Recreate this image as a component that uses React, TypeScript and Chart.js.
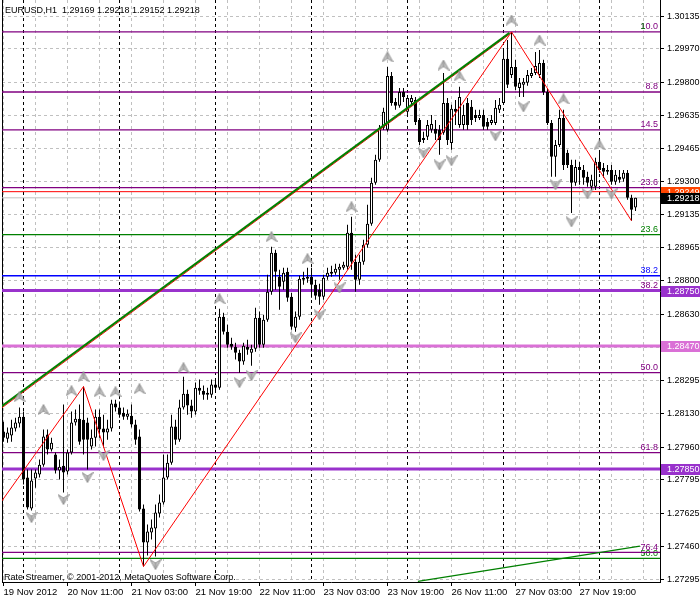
import React, { useEffect, useRef } from 'react';
import { Chart, registerables } from 'chart.js';

Chart.register(...registerables);

const headerText = 'EURUSD,H1  1.29169 1.29218 1.29152 1.29218';
const footerText = 'Rate Streamer, \u00A9 2001-2012, MetaQuotes Software Corp.';

// hourly bars, index 0 = 19 Nov 2012 19:00
const opens = [
  1.28039, 1.28003, 1.28019, 1.28054, 1.28079, 1.28114, 1.27807, 1.27651, 1.27802, 1.27822,
  1.27872, 1.28024, 1.27948, 1.27923, 1.27842, 1.27867, 1.27837, 1.27933, 1.28084, 1.28104,
  1.28099, 1.28084, 1.27963, 1.28008, 1.28114, 1.28054, 1.28034, 1.28054, 1.28180, 1.28160,
  1.28134, 1.28114, 1.28119, 1.28074, 1.28014, 1.27651, 1.27479, 1.27530, 1.27550, 1.27625,
  1.27681, 1.27807, 1.27882, 1.28064, 1.27998, 1.28160, 1.28230, 1.28170, 1.28140, 1.28260,
  1.28245, 1.28225, 1.28225, 1.28276, 1.28260, 1.28618, 1.28543, 1.28482, 1.28467, 1.28437,
  1.28392, 1.28467, 1.28437, 1.28457, 1.28613, 1.28477, 1.28603, 1.28744, 1.28941, 1.28820,
  1.28795, 1.28845, 1.28719, 1.28563, 1.28618, 1.28805, 1.28810, 1.28820, 1.28780, 1.28754,
  1.28719, 1.28820, 1.28835, 1.28840, 1.28855, 1.28865, 1.28870, 1.29042, 1.28896, 1.28805,
  1.28896, 1.28981, 1.29087, 1.29294, 1.29410, 1.29571, 1.29561, 1.29833, 1.29702, 1.29682,
  1.29752, 1.29652, 1.29702, 1.29712, 1.29611, 1.29520, 1.29526, 1.29561, 1.29566, 1.29561,
  1.29546, 1.29697, 1.29495, 1.29667, 1.29586, 1.29586, 1.29697, 1.29677, 1.29636, 1.29621,
  1.29636, 1.29601, 1.29596, 1.29596, 1.29662, 1.29697, 1.29919, 1.29838, 1.29878, 1.29772,
  1.29788, 1.29798, 1.29833, 1.29848, 1.29838, 1.29898, 1.29752, 1.29596, 1.29425, 1.29485,
  1.29621, 1.29445, 1.29384, 1.29294, 1.29374, 1.29359, 1.29324, 1.29274, 1.29274, 1.29400,
  1.29369, 1.29349, 1.29359, 1.29299, 1.29324, 1.29314, 1.29344, 1.29218, 1.29169,
];
const highs = [
  1.28089, 1.28059, 1.28099, 1.28109, 1.28160, 1.28140, 1.27847, 1.27847, 1.27847, 1.27898,
  1.28049, 1.28049, 1.28008, 1.27933, 1.27898, 1.28175, 1.27948, 1.28140, 1.28150, 1.28175,
  1.28266, 1.28109, 1.28049, 1.28150, 1.28150, 1.28124, 1.28099, 1.28200, 1.28200, 1.28190,
  1.28160, 1.28150, 1.28175, 1.28099, 1.28049, 1.27671, 1.27570, 1.27595, 1.27671, 1.27721,
  1.27923, 1.27923, 1.28124, 1.28099, 1.28200, 1.28316, 1.28250, 1.28200, 1.28286, 1.28301,
  1.28271, 1.28260, 1.28301, 1.28301, 1.28659, 1.28638, 1.28578, 1.28512, 1.28487, 1.28452,
  1.28487, 1.28502, 1.28477, 1.28664, 1.28644, 1.28628, 1.28830, 1.28971, 1.28956, 1.28855,
  1.28865, 1.28865, 1.28739, 1.28644, 1.28825, 1.28845, 1.28865, 1.28865, 1.28805, 1.28785,
  1.28830, 1.28865, 1.28875, 1.28885, 1.28885, 1.28896, 1.29082, 1.29122, 1.28931, 1.28931,
  1.29006, 1.29183, 1.29319, 1.29435, 1.29586, 1.29672, 1.29878, 1.29853, 1.29722, 1.29772,
  1.29772, 1.29737, 1.29737, 1.29727, 1.29621, 1.29551, 1.29611, 1.29636, 1.29611, 1.29586,
  1.29848, 1.29722, 1.29687, 1.29712, 1.29778, 1.29687, 1.29722, 1.29712, 1.29662, 1.29662,
  1.29662, 1.29621, 1.29636, 1.29712, 1.29722, 1.29964, 1.30014, 1.30055, 1.29914, 1.29823,
  1.29823, 1.29863, 1.29873, 1.29954, 1.29964, 1.29914, 1.29772, 1.29611, 1.29510, 1.29662,
  1.29662, 1.29460, 1.29410, 1.29410, 1.29400, 1.29384, 1.29349, 1.29334, 1.29420, 1.29450,
  1.29394, 1.29384, 1.29384, 1.29359, 1.29359, 1.29359, 1.29359, 1.29233, 1.29218,
];
const lows = [
  1.27988, 1.27983, 1.27988, 1.28039, 1.28059, 1.27772, 1.27646, 1.27641, 1.27756, 1.27807,
  1.27862, 1.27923, 1.27938, 1.27827, 1.27797, 1.27731, 1.27822, 1.27923, 1.28069, 1.27973,
  1.27923, 1.27847, 1.27948, 1.27963, 1.28008, 1.27958, 1.27998, 1.28039, 1.28140, 1.28109,
  1.28099, 1.28099, 1.28059, 1.27973, 1.27636, 1.27358, 1.27414, 1.27494, 1.27409, 1.27605,
  1.27671, 1.27797, 1.27872, 1.27973, 1.27988, 1.28150, 1.28124, 1.28109, 1.28124, 1.28225,
  1.28200, 1.28200, 1.28210, 1.28240, 1.28250, 1.28528, 1.28462, 1.28452, 1.28402, 1.28336,
  1.28376, 1.28427, 1.28371, 1.28442, 1.28462, 1.28462, 1.28593, 1.28729, 1.28754, 1.28654,
  1.28754, 1.28694, 1.28553, 1.28543, 1.28603, 1.28780, 1.28790, 1.28714, 1.28704, 1.28679,
  1.28704, 1.28805, 1.28820, 1.28830, 1.28805, 1.28855, 1.28855, 1.28855, 1.28744, 1.28780,
  1.28880, 1.28966, 1.29077, 1.29284, 1.29400, 1.29561, 1.29551, 1.29682, 1.29662, 1.29672,
  1.29702, 1.29636, 1.29687, 1.29586, 1.29485, 1.29495, 1.29510, 1.29546, 1.29510, 1.29435,
  1.29536, 1.29485, 1.29460, 1.29586, 1.29571, 1.29561, 1.29561, 1.29586, 1.29601, 1.29611,
  1.29561, 1.29561, 1.29586, 1.29586, 1.29646, 1.29687, 1.29772, 1.29823, 1.29762, 1.29727,
  1.29727, 1.29783, 1.29823, 1.29838, 1.29823, 1.29737, 1.29586, 1.29324, 1.29324, 1.29475,
  1.29359, 1.29369, 1.29142, 1.29279, 1.29284, 1.29284, 1.29274, 1.29258, 1.29258, 1.29344,
  1.29319, 1.29334, 1.29284, 1.29284, 1.29294, 1.29299, 1.29208, 1.29102, 1.29152,
];
const closes = [
  1.28008, 1.28034, 1.28059, 1.28084, 1.28114, 1.27797, 1.27656, 1.27792, 1.27832, 1.27872,
  1.28014, 1.27948, 1.27983, 1.27842, 1.27862, 1.27832, 1.27933, 1.28084, 1.28104, 1.27988,
  1.27998, 1.27998, 1.28008, 1.28114, 1.28049, 1.28034, 1.28054, 1.28180, 1.28160, 1.28124,
  1.28114, 1.28129, 1.28074, 1.27998, 1.27646, 1.27479, 1.27535, 1.27555, 1.27630, 1.27681,
  1.27807, 1.27882, 1.28064, 1.27998, 1.28160, 1.28230, 1.28170, 1.28140, 1.28260, 1.28245,
  1.28225, 1.28235, 1.28276, 1.28260, 1.28618, 1.28543, 1.28477, 1.28467, 1.28437, 1.28392,
  1.28472, 1.28452, 1.28457, 1.28613, 1.28477, 1.28603, 1.28744, 1.28941, 1.28845, 1.28770,
  1.28840, 1.28714, 1.28568, 1.28618, 1.28810, 1.28815, 1.28820, 1.28780, 1.28724, 1.28719,
  1.28815, 1.28840, 1.28845, 1.28860, 1.28870, 1.28880, 1.29042, 1.28896, 1.28805, 1.28896,
  1.28981, 1.29087, 1.29294, 1.29410, 1.29571, 1.29652, 1.29833, 1.29697, 1.29682, 1.29752,
  1.29727, 1.29722, 1.29722, 1.29601, 1.29500, 1.29510, 1.29586, 1.29591, 1.29541, 1.29510,
  1.29697, 1.29510, 1.29667, 1.29652, 1.29727, 1.29636, 1.29586, 1.29611, 1.29621, 1.29636,
  1.29576, 1.29576, 1.29611, 1.29672, 1.29687, 1.29919, 1.29788, 1.29878, 1.29778, 1.29798,
  1.29803, 1.29838, 1.29848, 1.29883, 1.29898, 1.29752, 1.29596, 1.29425, 1.29485, 1.29621,
  1.29384, 1.29384, 1.29294, 1.29374, 1.29359, 1.29319, 1.29294, 1.29309, 1.29400, 1.29359,
  1.29349, 1.29359, 1.29299, 1.29334, 1.29309, 1.29344, 1.29218, 1.29158, 1.29218,
];

const xLabelIdx = [0, 16, 32, 48, 64, 80, 96, 112, 128, 144];
const xLabels = ['19 Nov 2012', '20 Nov 11:00', '21 Nov 03:00', '21 Nov 19:00', '22 Nov 11:00',
  '23 Nov 03:00', '23 Nov 19:00', '26 Nov 11:00', '27 Nov 03:00', '27 Nov 19:00'];
const xGridIdx = [0, 8, 16, 24, 32, 40, 48, 56, 64, 72, 80, 88, 96, 104, 112, 120, 128, 136, 144, 152, 160];
const dayStartIdx = [5, 29, 53, 77, 101, 125, 149];

const yTickValues = [1.30135, 1.29970, 1.29800, 1.29635, 1.29465, 1.29300, 1.29135, 1.28965, 1.28800,
  1.28630, 1.28465, 1.28295, 1.28130, 1.27960, 1.27795, 1.27625, 1.27460, 1.27295];

const levelPrices = [1.30055, 1.29752, 1.29561, 1.29269, 1.29032, 1.28825, 1.28750, 1.28470, 1.28336,
  1.27933, 1.27850, 1.27429, 1.27399, 1.29249, 1.29218];
const levelColors = ['#800080', '#800080', '#800080', '#800080', '#008000', '#0000FF', '#9932CC', '#DA70D6',
  '#800080', '#800080', '#9932CC', '#800080', '#008000', '#FF0000', '#C0C0C0'];
const levelWidths = [1.3, 1.3, 1.3, 1.3, 1.3, 1.3, 3, 3, 1.3, 1.3, 3, 1.3, 1.3, 1, 1];

const fibTexts = ['10.0', '8.8', '14.5', '23.6', '23.6', '38.2', '38.2', '50.0', '61.8', '76.4', '50.0'];
const fibTextPrices = [1.30055, 1.29752, 1.29561, 1.29269, 1.29032, 1.28825, 1.28750, 1.28336, 1.27933, 1.27429, 1.27399];
const fibTextColors = ['#800080', '#800080', '#800080', '#800080', '#008000', '#0000FF', '#800080', '#800080',
  '#800080', '#800080', '#008000'];

const boxPrices = [1.29249, 1.29218, 1.28750, 1.28470, 1.27850];
const boxColors = ['#FF4500', '#000000', '#9932CC', '#DA70D6', '#9932CC'];

const zigzagIdx = [-0.875, 20, 35, 127, 157];
const zigzagPrice = [1.27676, 1.28266, 1.27358, 1.30055, 1.29102];
const channelIdx = [-0.875, 126.5];
const channelPrice = [1.28160, 1.30050];
const channelRedPrice = [1.28152, 1.30043];
const lowerTrendIdx = [103.6, 159.1];
const lowerTrendPrice = [1.27283, 1.27461];

const upArrowIdx = [4, 10, 17, 20, 24, 28, 34, 45, 54, 67, 76, 87, 96, 110, 114, 127, 134, 140, 149];
const upArrowPrice = [1.28215, 1.28150, 1.28245, 1.28316, 1.28240, 1.28240, 1.28255, 1.28361, 1.28709,
  1.29022, 1.28911, 1.29173, 1.29929, 1.29888, 1.29833, 1.30115, 1.30014, 1.29717, 1.29485];
const downArrowIdx = [7, 15, 21, 25, 38, 59, 62, 73, 79, 84, 105, 109, 112, 123, 130, 138, 142, 146, 152];
const downArrowPrice = [1.27605, 1.27696, 1.27807, 1.27918, 1.27368, 1.28286, 1.28321, 1.28512, 1.28628,
  1.28764, 1.29445, 1.29384, 1.29405, 1.29531, 1.29677, 1.29284, 1.29097, 1.29238, 1.29238];

const X_MIN = -0.375;
const X_MAX = 164.125;
const Y_MIN = 1.2728;
const Y_MAX = 1.30216;
const FONT = "'Liberation Sans', Arial, sans-serif";

function makeArrow(up: boolean): HTMLCanvasElement {
  const c = document.createElement('canvas');
  c.width = 12;
  c.height = 11;
  const g = c.getContext('2d') as CanvasRenderingContext2D;
  g.beginPath();
  if (up) {
    g.moveTo(6, 0.5); g.lineTo(11.5, 10.5); g.lineTo(6, 7); g.lineTo(0.5, 10.5);
  } else {
    g.moveTo(6, 10.5); g.lineTo(11.5, 0.5); g.lineTo(6, 4); g.lineTo(0.5, 0.5);
  }
  g.closePath();
  g.fillStyle = '#c4c4c4';
  g.fill();
  g.strokeStyle = '#959595';
  g.lineWidth = 1;
  g.stroke();
  g.beginPath();
  if (up) { g.moveTo(6, 1.5); g.lineTo(6, 7); } else { g.moveTo(6, 9.5); g.lineTo(6, 4); }
  g.strokeStyle = '#8a8a8a';
  g.stroke();
  return c;
}

export default function App() {
  const canvasRef = useRef<HTMLCanvasElement | null>(null);

  useEffect(() => {
    document.body.style.margin = '0';
    const canvas = canvasRef.current;
    if (!canvas) return;
    const upImg = makeArrow(true);
    const downImg = makeArrow(false);
    const barIdx = opens.map((_, i) => i);
    const pts = (xs: number[], ys: number[]) => xs.map((x, k) => ({ x, y: ys[k] }));

    const levelSets: any[] = levelPrices.map((p, k) => ({
      type: 'line',
      data: [{ x: X_MIN - 2, y: p }, { x: X_MAX + 2, y: p }],
      borderColor: levelColors[k],
      borderWidth: levelWidths[k],
      pointRadius: 0,
      tension: 0,
      order: 20 + k,
    }));

    const decor = {
      id: 'mt4decor',
      beforeDatasetsDraw(chart: any) {
        const { ctx, chartArea: a, scales } = chart;
        const xs = scales.x;
        const ys = scales.y;
        ctx.save();
        ctx.strokeStyle = '#000';
        ctx.lineWidth = 1;
        ctx.setLineDash([3, 3]);
        dayStartIdx.forEach((i) => {
          const px = Math.floor(xs.getPixelForValue(i)) + 0.5;
          ctx.beginPath();
          ctx.moveTo(px, a.top);
          ctx.lineTo(px, a.bottom);
          ctx.stroke();
        });
        ctx.setLineDash([]);
        ctx.beginPath();
        ctx.moveTo(a.left + 0.5, a.top);
        ctx.lineTo(a.left + 0.5, a.bottom);
        ctx.stroke();
        ctx.font = '9px ' + FONT;
        ctx.textAlign = 'right';
        ctx.textBaseline = 'alphabetic';
        fibTexts.forEach((t, k) => {
          const py = ys.getPixelForValue(fibTextPrices[k]);
          const off = levelWidths[levelPrices.indexOf(fibTextPrices[k])] >= 3 ? 3 : 2.5;
          ctx.fillStyle = fibTextColors[k];
          ctx.fillText(t, 658, py - off);
          if (k === 0) {
            const w = ctx.measureText('0.0').width;
            ctx.fillStyle = '#008000';
            ctx.fillText('1', 658 - w, py - off);
          }
        });
        ctx.restore();
      },
      afterDraw(chart: any) {
        const { ctx, scales } = chart;
        const ys = scales.y;
        ctx.save();
        ctx.font = '9px ' + FONT;
        ctx.textBaseline = 'middle';
        ctx.textAlign = 'left';
        boxPrices.forEach((p, k) => {
          const py = Math.round(ys.getPixelForValue(p));
          ctx.fillStyle = boxColors[k];
          ctx.fillRect(661, py - 5, 39, 11);
          ctx.fillStyle = '#ffffff';
          ctx.fillText(p.toFixed(5), 667, py + 0.5);
        });
        ctx.fillStyle = '#000';
        ctx.textBaseline = 'alphabetic';
        ctx.fillText(headerText, 5, 12.5);
        ctx.fillText(footerText, 4, 580);
        ctx.restore();
      },
    };

    const chart = new Chart(canvas, {
      type: 'line',
      data: {
        datasets: [
          {
            type: 'line',
            data: pts(upArrowIdx, upArrowPrice),
            showLine: false,
            pointStyle: upImg as any,
            pointRadius: 6,
            order: 0,
          } as any,
          {
            type: 'line',
            data: pts(downArrowIdx, downArrowPrice),
            showLine: false,
            pointStyle: downImg as any,
            pointRadius: 6,
            order: 1,
          } as any,
          {
            type: 'line',
            data: pts(channelIdx, channelPrice),
            borderColor: '#008000',
            borderWidth: 2,
            pointRadius: 0,
            order: 2,
          },
          {
            type: 'line',
            data: pts(channelIdx, channelRedPrice),
            borderColor: '#FF0000',
            borderWidth: 1,
            pointRadius: 0,
            order: 3,
          },
          {
            type: 'line',
            data: pts(zigzagIdx, zigzagPrice),
            borderColor: '#FF0000',
            borderWidth: 1,
            pointRadius: 0,
            order: 4,
          },
          {
            type: 'line',
            data: pts(lowerTrendIdx, lowerTrendPrice),
            borderColor: '#008000',
            borderWidth: 1.2,
            pointRadius: 0,
            order: 5,
          },
          {
            type: 'bar',
            data: barIdx.map((i) => ({ x: i, y: [opens[i], closes[i]] })) as any,
            backgroundColor: barIdx.map((i) => (closes[i] >= opens[i] ? '#ffffff' : '#000000')),
            borderColor: '#000000',
            borderWidth: 1,
            borderSkipped: false,
            barThickness: 3,
            minBarLength: 1,
            grouped: false,
            inflateAmount: 0,
            order: 6,
          } as any,
          {
            type: 'bar',
            data: barIdx.map((i) => ({ x: i, y: [lows[i], highs[i]] })) as any,
            backgroundColor: '#000000',
            borderWidth: 0,
            barThickness: 1,
            grouped: false,
            inflateAmount: 0,
            order: 7,
          } as any,
          ...levelSets,
        ],
      },
      options: {
        animation: false,
        responsive: false,
        devicePixelRatio: 1,
        events: [],
        layout: { autoPadding: false, padding: { left: 2, top: 0, right: 0, bottom: 0 } },
        font: { family: FONT, size: 9 } as any,
        plugins: { legend: { display: false }, tooltip: { enabled: false } },
        scales: {
          x: {
            type: 'linear',
            min: X_MIN,
            max: X_MAX,
            offset: false,
            afterBuildTicks: (s: any) => { s.ticks = xGridIdx.map((v) => ({ value: v })); },
            afterFit: (s: any) => { s.height = 18; s.paddingLeft = 0; s.paddingRight = 0; },
            grid: {
              offset: false,
              color: '#c0c0c0',
              lineWidth: 1,
              tickLength: 4,
              tickColor: (c: any) => (xLabelIdx.includes(c.tick && c.tick.value) ? '#000000' : 'rgba(0,0,0,0)'),
            },
            border: { display: true, color: '#000000', width: 1, dash: [3, 3] },
            ticks: {
              autoSkip: false,
              maxRotation: 0,
              minRotation: 0,
              align: 'start',
              padding: 1,
              color: '#000',
              font: { family: FONT, size: 9.5 },
              callback: (v: any) => {
                const k = xLabelIdx.indexOf(Number(v));
                return k >= 0 ? xLabels[k] : '';
              },
            },
          },
          y: {
            type: 'linear',
            position: 'right',
            min: Y_MIN,
            max: Y_MAX,
            beginAtZero: false,
            afterBuildTicks: (s: any) => { s.ticks = yTickValues.map((v) => ({ value: v })); },
            afterFit: (s: any) => { s.width = 40; s.paddingTop = 0; s.paddingBottom = 0; },
            grid: { color: '#c0c0c0', lineWidth: 1, tickLength: 4, tickColor: '#000000' },
            border: { display: true, color: '#000000', width: 1, dash: [3, 3] },
            ticks: {
              autoSkip: false,
              padding: 3,
              color: '#000',
              font: { family: FONT, size: 9 },
              callback: (v: any) => Number(v).toFixed(5),
            },
          },
        },
      } as any,
      plugins: [decor],
    });

    return () => chart.destroy();
  }, []);

  return (
    <div style={{ width: 700, height: 600, background: '#ffffff' }}>
      <canvas ref={canvasRef} width={700} height={600} style={{ display: 'block' }} />
    </div>
  );
}
